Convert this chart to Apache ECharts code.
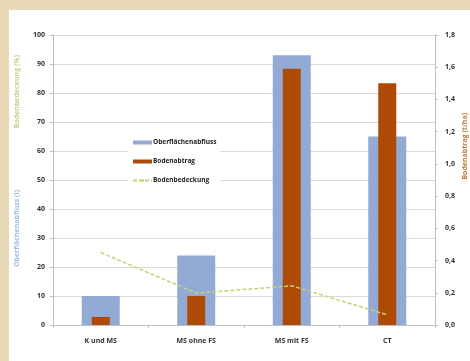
<!DOCTYPE html>
<html>
<head>
<meta charset="utf-8">
<script src="https://cdn.jsdelivr.net/npm/echarts@6/dist/echarts.min.js"></script>
<style>
  html, body { margin: 0; padding: 0; background: #fff; }
  #chart { width: 470px; height: 361px; }
</style>
</head>
<body>
<div id="chart"></div>
<script>
// data
const categories = ['K und MS', 'MS ohne FS', 'MS mit FS', 'CT']
const abfluss = [10, 24, 93, 65]          // Oberflächenabfluss (l), left axis
const abtrag = [0.05, 0.18, 1.59, 1.5]    // Bodenabtrag (t/ha), right axis
const bedeckung = [25, 11, 13.5, 3.5]     // Bodenbedeckung (%), left axis

const labelFont = { fontFamily: 'Open Sans', fontWeight: 'bold', fontSize: 7, color: '#333' }
const comma = v => v.toFixed(1).replace('.', ',')

const chart = echarts.init(document.getElementById('chart'), null, { renderer: 'canvas' })

chart.setOption({
  animation: false,
  backgroundColor: '#fff',
  grid: { left: 53, right: 35, top: 35, bottom: 36 },
  graphic: [
    { type: 'rect', left: 0, top: 0, shape: { width: 470, height: 10 }, style: { fill: '#ead9b7' }, z: -1 },
    { type: 'rect', left: 0, top: 0, shape: { width: 9, height: 361 }, style: { fill: '#ead9b7' }, z: -1 },
    { type: 'text', left: 13, top: 55, rotation: Math.PI / 2,
      style: { text: 'Bodenbedeckung (%)', fill: '#c2d68e', font: 'bold 7px "Open Sans"' } },
    { type: 'text', left: 13, top: 190, rotation: Math.PI / 2,
      style: { text: 'Oberflächenabfluss (l)', fill: '#a3bde0', font: 'bold 7px "Open Sans"' } },
    { type: 'text', left: 461, top: 113, rotation: Math.PI / 2,
      style: { text: 'Bodenabtrag (t/ha)', fill: '#c47a3c', font: 'bold 7px "Open Sans"' } }
  ],
  legend: {
    orient: 'vertical',
    left: 128,
    top: 136,
    backgroundColor: '#fff',
    padding: [3, 4, 3, 4],
    itemWidth: 19,
    itemHeight: 4,
    itemGap: 12,
    textStyle: { fontFamily: 'Open Sans', fontWeight: 'bold', fontSize: 6.5, color: '#222', padding: [0, 0, 0, -4] },
    data: [
      { name: 'Oberflächenabfluss', icon: 'rect' },
      { name: 'Bodenabtrag', icon: 'rect' },
      { name: 'Bodenbedeckung' }
    ]
  },
  xAxis: [
    {
      type: 'category',
      data: categories,
      axisLine: { lineStyle: { color: '#bfbfbf' } },
      axisTick: { show: true, length: 3, lineStyle: { color: '#bfbfbf' } },
      axisLabel: Object.assign({ margin: 12 }, labelFont)
    },
    {
      // hidden twin axis so the brown bars sit centred in the blue ones
      type: 'category', data: categories, show: false, position: 'bottom'
    }
  ],
  yAxis: [
    {
      type: 'value', min: 0, max: 100, interval: 10,
      axisLine: { show: true, lineStyle: { color: '#bfbfbf' } },
      axisTick: { show: true, length: 3, lineStyle: { color: '#bfbfbf' } },
      axisLabel: Object.assign({ margin: 8 }, labelFont),
      splitLine: { lineStyle: { color: '#d9d9d9' } }
    },
    {
      type: 'value', min: 0, max: 1.8, interval: 0.2,
      axisLine: { show: true, lineStyle: { color: '#bfbfbf' } },
      axisTick: { show: true, length: 3, lineStyle: { color: '#bfbfbf' } },
      axisLabel: Object.assign({ margin: 10, formatter: comma }, labelFont),
      splitLine: { show: false }
    }
  ],
  series: [
    {
      name: 'Oberflächenabfluss', type: 'bar', data: abfluss, xAxisIndex: 0, yAxisIndex: 0,
      barWidth: 38, itemStyle: { color: '#93aad5' }
    },
    {
      name: 'Bodenabtrag', type: 'bar', data: abtrag, xAxisIndex: 1, yAxisIndex: 1,
      barWidth: 18, itemStyle: { color: '#ad4a06' }, z: 3
    },
    {
      name: 'Bodenbedeckung', type: 'line', data: bedeckung, xAxisIndex: 0, yAxisIndex: 0,
      symbol: 'none', z: 4,
      lineStyle: { color: '#c4d47a', width: 1.5, type: [4, 2] },
      itemStyle: { color: '#c4d47a' }
    }
  ]
})
</script>
</body>
</html>
